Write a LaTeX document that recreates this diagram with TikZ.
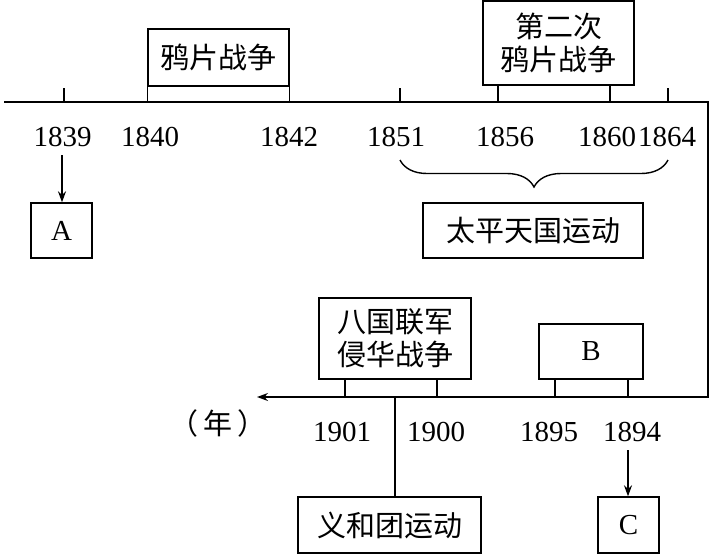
\documentclass[tikz,border=0pt]{standalone}
\usepackage{fontspec}
\setmainfont{Liberation Serif}
\newfontfamily\cjk{Noto Sans CJK SC}
\usetikzlibrary{arrows.meta}
\usetikzlibrary{decorations.pathreplacing}
\tikzset{
  box/.style={draw, line width=1.4pt, inner sep=0pt, align=center},
  zh/.style={font=\cjk\fontsize{29}{33}\selectfont},
  yr/.style={font=\fontsize{29}{31}\selectfont, inner sep=2pt},
  ln/.style={line width=1.4pt},
  arr/.style={ln, -{Stealth[length=11pt,width=8pt]}},
}

\begin{document}
\begin{tikzpicture}[x=1pt,y=-1pt]
    \useasboundingbox (0,0) rectangle (715,558);
    % time axis
    \coordinate (axL) at (4,102);
    \coordinate (axR) at (708,102);
    \coordinate (axB) at (708,397);
    \coordinate (axE) at (257,397);
    \draw[arr] (axL) -- (axR) -- (axB) -- (axE);
    \node[zh] (unit) at (218,423) {（\,年\,）};
    % boxes
    \node[box, zh, minimum width=141pt, minimum height=57pt] (opium) at (218.5,57.5) {鸦片战争};
    \node[box, zh, minimum width=151pt, minimum height=84pt] (opium2) at (558.5,43) {第二次\\鸦片战争};
    \node[box, zh, minimum width=220pt, minimum height=55pt] (taiping) at (533,230.5) {太平天国运动};
    \node[box, yr, minimum width=61pt, minimum height=55pt] (A) at (61.5,230.5) {A};
    \node[box, zh, minimum width=152pt, minimum height=81pt] (eight) at (395,338.5) {八国联军\\侵华战争};
    \node[box, yr, minimum width=104pt, minimum height=55pt] (B) at (591,351.5) {B};
    \node[box, zh, minimum width=183pt, minimum height=56pt] (boxer) at (389.5,525) {义和团运动};
    \node[box, yr, minimum width=61pt, minimum height=56pt] (C) at (628.5,525) {C};
    % years
    \node[yr] (y1839) at (62.5,137) {1839};
    \node[yr] (y1840) at (150,137) {1840};
    \node[yr] (y1842) at (289,137) {1842};
    \node[yr] (y1851) at (396,137) {1851};
    \node[yr] (y1856) at (505,137) {1856};
    \node[yr] (y1860) at (607,137) {1860};
    \node[yr] (y1864) at (667,137) {1864};
    \node[yr] (y1901) at (342,432) {1901};
    \node[yr] (y1900) at (436,432) {1900};
    \node[yr] (y1895) at (549,432) {1895};
    \node[yr] (y1894) at (632,432) {1894};
    % ticks
    \foreach \x in {64,400,668}
        \draw[ln] (\x,88) -- (\x,102);
    \foreach \x in {498,610}
        \draw[ln] (opium2.south -| \x,0) -- (\x,102);
    \draw[ln] (opium.south west) -- (opium.south west |- axL);
    \draw[ln] (opium.south east) -- (opium.south east |- axL);
    \foreach \x in {345,437}
        \draw[ln] (eight.south -| \x,0) -- (\x,397);
    \foreach \x in {555,628}
        \draw[ln] (B.south -| \x,0) -- (\x,397);
    % connectors
    \draw[ln, decorate, decoration={brace, amplitude=27pt, aspect=0.5}] (668,160) -- (400,160);
    \draw[arr] (62,155) -- (A.north -| 62,0);
    \draw[arr] (628,450) -- (C.north -| 628,0);
    \draw[ln] (395,397) -- (boxer.north -| 395,0);
\end{tikzpicture}
\end{document}
